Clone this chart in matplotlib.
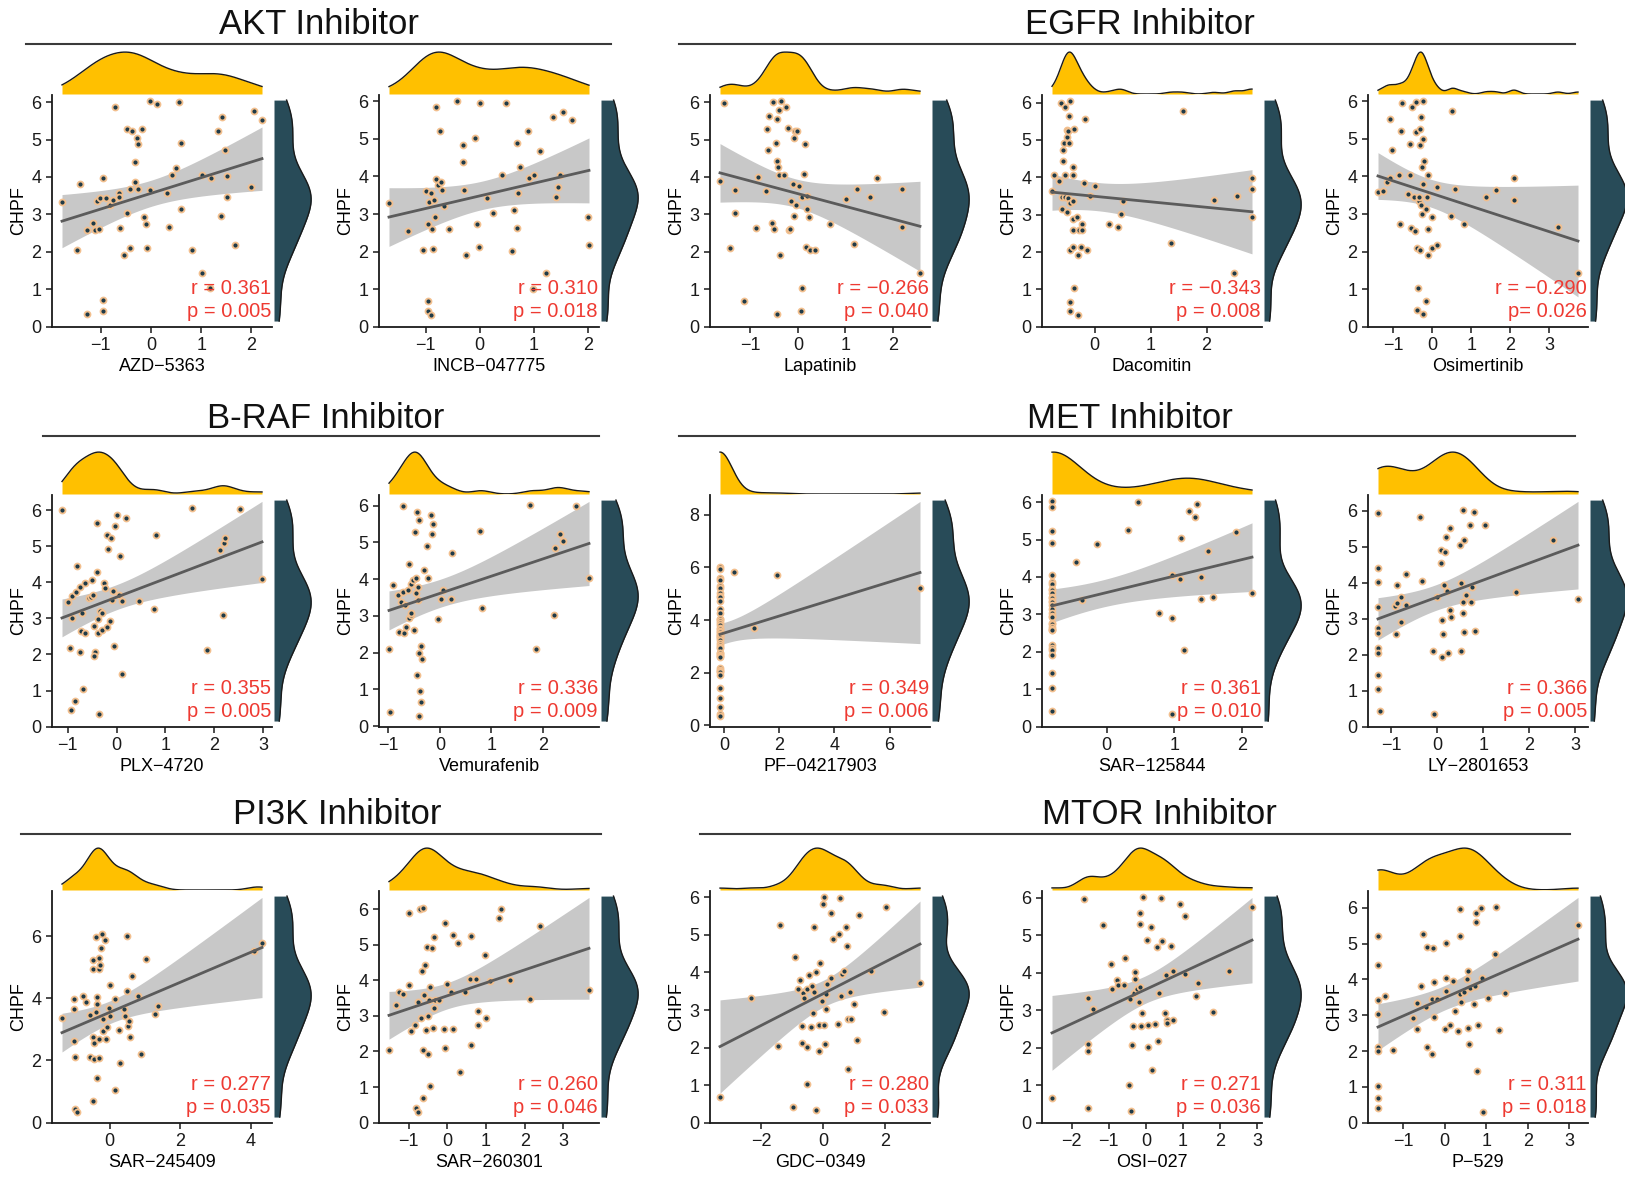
import numpy as np
import matplotlib.pyplot as plt
from matplotlib.lines import Line2D

plt.rcParams['font.family'] = ['Liberation Sans', 'DejaVu Sans']

# ---- values ----
# AKT inhibitors
azd_x = [-1.77, -1.42, -1.47, -1.27, -1.28, -1.15, -1.12, -1.04, -1.08, -1.02, -0.96, -0.90, -0.95, -0.96, -0.82,
         -0.75, -0.71, -0.64, -0.64, -0.62, -0.54, -0.48, -0.48, -0.41, -0.42, -0.38, -0.31, -0.31, -0.27, -0.25,
         -0.25, -0.18, -0.13, -0.09, -0.07, -0.02, -0.02, 0.13, 0.31, 0.36, 0.41, 0.50, 0.56, 0.59, 0.60,
         0.82, 1.02, 1.02, 1.17, 1.19, 1.33, 1.39, 1.42, 1.48, 1.52, 1.52, 1.68, 2.00, 2.05, 2.21]
azd_y = [3.32, 3.82, 2.05, 0.34, 2.57, 2.76, 2.58, 2.62, 3.36, 3.45, 3.96, 3.45, 0.71, 0.42, 3.26,
         3.38, 5.86, 3.58, 3.47, 2.64, 1.92, 3.05, 5.28, 2.11, 3.67, 5.22, 4.41, 3.87, 5.04, 4.87,
         3.69, 5.28, 2.94, 2.74, 2.11, 3.65, 6.02, 5.96, 3.56, 2.66, 4.05, 4.25, 6.00, 4.91, 3.14,
         2.04, 1.43, 4.05, 1.04, 3.98, 5.22, 2.96, 5.61, 4.71, 4.03, 3.47, 2.19, 3.74, 5.75, 5.53]

incb_x = [-1.68, -1.32, -1.05, -0.99, -0.96, -0.95, -0.96, -0.91, -0.94, -0.91, -0.89, -0.86, -0.84, -0.82, -0.81,
          -0.81, -0.77, -0.74, -0.72, -0.70, -0.66, -0.57, -0.43, -0.32, -0.32, -0.29, -0.25, -0.09, -0.05, -0.02,
          0.00, 0.13, 0.25, 0.41, 0.48, 0.59, 0.63, 0.68, 0.69, 0.71, 0.75, 0.89, 0.91, 1.00, 0.98,
          1.11, 1.23, 1.36, 1.41, 1.44, 1.48, 1.54, 1.71, 2.00, 2.02]
incb_y = [3.30, 2.55, 2.04, 3.61, 2.73, 0.68, 0.42, 0.31, 3.32, 3.56, 2.61, 2.08, 3.38, 2.92, 5.84,
          3.94, 3.76, 5.20, 3.85, 3.65, 3.21, 2.60, 6.00, 4.85, 4.39, 3.65, 1.90, 5.02, 2.73, 2.11,
          5.97, 3.42, 3.03, 4.03, 5.95, 2.02, 3.12, 2.64, 4.88, 3.56, 4.25, 5.20, 3.96, 4.03, 0.99,
          4.69, 1.42, 5.59, 3.45, 3.72, 4.05, 5.72, 5.51, 2.93, 2.18]

# EGFR inhibitors
lap_x = [-1.56, -1.64, -1.33, -1.32, -1.44, -1.14, -0.89, -0.83, -0.67, -0.65, -0.64, -0.60, -0.55, -0.52, -0.50,
         -0.47, -0.45, -0.45, -0.44, -0.42, -0.40, -0.39, -0.38, -0.35, -0.30, -0.26, -0.20, -0.19, -0.17, -0.14,
         -0.11, -0.08, -0.08, -0.07, -0.05, -0.01, 0.02, 0.07, 0.09, 0.09, 0.12, 0.15, 0.17, 0.19, 0.20,
         0.23, 0.25, 0.37, 0.67, 1.01, 1.19, 1.24, 1.51, 1.66, 2.19, 2.19, 2.57]
lap_y = [5.98, 3.88, 3.64, 3.05, 2.10, 0.69, 2.64, 4.00, 3.62, 5.29, 4.71, 5.62, 2.76, 6.00, 2.60,
         4.90, 5.56, 4.43, 0.33, 4.27, 5.78, 4.04, 1.91, 6.02, 4.04, 5.87, 5.31, 2.58, 2.60, 3.35,
         3.82, 5.05, 2.96, 5.22, 3.26, 5.24, 3.75, 0.43, 1.02, 3.47, 4.07, 4.89, 2.12, 3.14, 3.48,
         2.93, 2.06, 2.04, 2.74, 3.40, 2.20, 3.67, 3.47, 3.96, 3.67, 2.67, 1.44]

dac_x = [-0.76, -0.73, -0.64, -0.60, -0.59, -0.58, -0.57, -0.56, -0.55, -0.53, -0.52, -0.52, -0.50, -0.50, -0.49,
         -0.48, -0.48, -0.46, -0.45, -0.44, -0.44, -0.44, -0.44, -0.43, -0.39, -0.39, -0.38, -0.37, -0.39, -0.39,
         -0.36, -0.38, -0.31, -0.30, -0.29, -0.28, -0.24, -0.23, -0.22, -0.17, -0.19, -0.13, -0.09, 0.00, 0.26,
         0.41, 0.48, 0.51, 1.36, 1.57, 2.13, 2.55, 2.48, 2.81, 2.81, 2.81]
dac_y = [3.62, 4.06, 3.89, 6.00, 3.15, 3.46, 4.73, 4.43, 4.91, 3.46, 5.88, 4.07, 3.06, 5.07, 5.26,
         3.45, 5.24, 4.91, 5.64, 0.67, 0.43, 3.30, 2.06, 6.03, 2.12, 4.07, 4.28, 5.30, 3.36, 2.87,
         1.03, 2.59, 2.94, 1.92, 0.32, 2.59, 2.14, 2.76, 2.59, 5.57, 3.85, 2.05, 3.49, 3.76, 2.76,
         2.66, 3.01, 3.37, 2.23, 5.77, 3.40, 3.49, 1.43, 3.98, 3.69, 2.93]

osi_x = [-1.39, -1.25, -1.16, -1.08, -1.08, -1.02, -0.84, -0.82, -0.81, -0.78, -0.61, -0.57, -0.57, -0.55, -0.51,
         -0.48, -0.45, -0.43, -0.41, -0.40, -0.39, -0.37, -0.34, -0.34, -0.32, -0.32, -0.31, -0.30, -0.29, -0.26,
         -0.26, -0.25, -0.25, -0.25, -0.24, -0.21, -0.17, -0.16, -0.14, -0.11, -0.11, -0.10, -0.02, -0.02, 0.11,
         0.13, 0.48, 0.50, 0.58, 0.80, 1.38, 1.62, 2.09, 2.09, 3.22, 3.73]
osi_y = [3.59, 3.62, 3.84, 3.97, 5.52, 4.70, 4.04, 2.74, 5.22, 5.96, 3.54, 4.87, 4.04, 2.63, 5.84,
         3.44, 2.56, 5.18, 5.98, 0.44, 2.10, 1.02, 3.35, 3.46, 5.27, 4.85, 2.05, 5.58, 3.24, 3.00,
         4.24, 3.80, 5.01, 6.00, 0.34, 4.40, 3.13, 0.69, 3.44, 4.03, 2.60, 1.90, 2.91, 2.10, 2.18,
         3.72, 2.96, 5.74, 3.66, 2.74, 3.44, 3.64, 3.95, 3.37, 2.65, 1.43]

# B-RAF inhibitors
plx_x = [-1.12, -1.00, -0.96, -0.94, -0.92, -0.91, -0.86, -0.83, -0.81, -0.76, -0.75, -0.73, -0.70, -0.69, -0.65,
         -0.64, -0.57, -0.53, -0.51, -0.49, -0.46, -0.45, -0.46, -0.41, -0.41, -0.39, -0.39, -0.37, -0.35, -0.31,
         -0.29, -0.25, -0.23, -0.20, -0.20, -0.17, -0.13, -0.11, -0.09, -0.07, -0.06, -0.03, 0.00, 0.04, 0.06,
         0.10, 0.12, 0.20, 0.46, 0.77, 0.81, 1.54, 1.85, 2.11, 2.19, 2.21, 2.23, 2.53, 2.98]
plx_y = [6.00, 3.46, 2.18, 0.47, 3.00, 3.62, 0.72, 3.72, 4.45, 3.87, 2.07, 2.65, 3.16, 1.05, 2.60,
         3.98, 3.57, 3.59, 4.05, 3.64, 2.78, 2.07, 1.95, 5.64, 4.28, 2.98, 2.59, 0.36, 3.21, 2.68,
         3.16, 3.98, 3.84, 5.30, 2.77, 4.91, 2.94, 5.24, 3.51, 3.77, 2.23, 5.55, 5.87, 3.66, 4.73,
         1.46, 3.48, 5.77, 3.48, 3.25, 5.32, 6.05, 2.13, 4.89, 3.09, 5.08, 5.24, 6.02, 4.08]

vem_x = [-0.99, -0.97, -0.91, -0.82, -0.80, -0.76, -0.72, -0.71, -0.69, -0.67, -0.66, -0.63, -0.61, -0.60, -0.57,
         -0.56, -0.56, -0.52, -0.51, -0.49, -0.47, -0.46, -0.45, -0.45, -0.43, -0.43, -0.41, -0.41, -0.40, -0.38,
         -0.37, -0.36, -0.34, -0.31, -0.26, -0.24, -0.18, -0.16, -0.13, -0.04, 0.02, 0.07, 0.21, 0.24, 0.82,
         0.78, 1.75, 1.87, 2.22, 2.24, 2.33, 2.40, 2.65, 2.90]
vem_y = [2.09, 0.38, 3.83, 3.58, 2.57, 3.38, 5.98, 3.65, 2.53, 3.29, 2.71, 3.70, 4.42, 2.94, 3.02,
         3.88, 3.07, 3.97, 2.62, 5.27, 4.02, 3.61, 5.84, 1.40, 3.79, 3.43, 5.61, 2.00, 0.27, 0.97,
         0.65, 2.18, 1.82, 4.24, 4.89, 4.02, 5.75, 5.24, 5.51, 2.91, 3.45, 3.70, 3.45, 4.70, 3.22,
         5.30, 6.01, 2.09, 3.02, 4.86, 5.22, 5.04, 6.00, 4.03]

# MET inhibitors (many samples sit on the same lowest value)
pf_x = [-0.15] * 46 + [0.37, 1.09, 1.91, 7.10]
pf_y = [6.02, 5.96, 5.60, 5.53, 5.28, 5.22, 5.04, 4.91, 4.87, 4.71,
        4.41, 4.25, 4.05, 4.03, 3.98, 3.87, 3.82, 3.69, 3.65, 3.58,
        3.56, 3.47, 3.45, 3.38, 3.36, 3.32, 3.26, 3.14, 3.05, 2.96,
        2.94, 2.76, 2.74, 2.66, 2.62, 2.58, 2.19, 2.11, 2.05, 2.04,
        1.92, 1.43, 1.04, 0.71, 0.42, 0.34, 5.82, 3.71, 5.73, 5.22]

sar125_x = [-0.81] * 32 + [-0.46, -0.36, -0.15, 0.32, 0.46, 0.77, 0.97, 0.97, 0.97,
                           1.09, 1.10, 1.14, 1.22, 1.30, 1.33, 1.39, 1.39, 1.50, 1.57, 1.91, 2.15]
sar125_y = [6.02, 5.86, 5.22, 4.91, 4.05, 3.87, 3.82, 3.69, 3.65, 3.58,
            3.47, 3.45, 3.36, 3.32, 3.26, 3.14, 3.05, 2.96, 2.94, 2.76,
            2.74, 2.66, 2.62, 2.58, 2.57, 2.19, 2.11, 2.05, 1.92, 1.43,
            1.04, 0.42, 4.41, 3.38, 4.87, 5.26, 6.00, 3.03, 2.91, 0.33, 4.05,
            3.95, 5.03, 2.06, 5.75, 5.60, 5.96, 4.00, 3.42, 4.69, 3.46, 5.21, 3.56]

ly_x = [-1.29, -1.29, -1.29, -1.29, -1.29, -1.29, -1.29, -1.29, -1.29, -1.29, -1.24, -0.92, -0.90, -0.87, -0.88,
        -0.78, -0.78, -0.69, -0.69, -0.38, -0.33, -0.10, -0.07, 0.00, 0.07, 0.09, 0.10, 0.10, 0.12, 0.14,
        0.16, 0.19, 0.21, 0.23, 0.27, 0.27, 0.29, 0.49, 0.51, 0.52, 0.55, 0.55, 0.56, 0.58, 0.59,
        0.62, 0.72, 0.73, 0.76, 0.79, 0.81, 1.03, 1.71, 2.52, 3.06]
ly_y = [5.95, 4.40, 4.02, 3.32, 2.75, 2.60, 2.20, 2.04, 1.44, 1.04, 0.44, 3.37, 2.57, 3.94, 3.44,
        3.62, 2.91, 3.38, 4.25, 5.83, 4.06, 2.11, 0.34, 3.62, 4.91, 4.56, 1.93, 2.96, 2.59, 3.94,
        4.86, 5.28, 3.76, 2.04, 5.53, 3.24, 3.06, 5.05, 2.11, 3.99, 6.03, 3.47, 3.15, 2.64, 5.20,
        3.67, 5.61, 3.47, 3.88, 5.98, 2.66, 5.60, 3.74, 5.20, 3.56]

# PI3K inhibitors
s245_x = [-1.35, -1.02, -1.02, -1.00, -0.99, -0.99, -0.93, -0.75, -0.66, -0.55, -0.55, -0.48, -0.47, -0.47, -0.47,
          -0.44, -0.44, -0.40, -0.40, -0.37, -0.36, -0.36, -0.31, -0.31, -0.31, -0.29, -0.27, -0.25, -0.23, -0.20,
          -0.20, -0.14, -0.11, -0.07, -0.03, 0.00, 0.02, 0.15, 0.16, 0.26, 0.30, 0.41, 0.43, 0.49, 0.49,
          0.52, 0.55, 0.57, 0.63, 0.81, 0.88, 1.03, 1.29, 1.36, 4.09, 4.31]
s245_y = [3.36, 3.96, 3.64, 2.61, 2.11, 0.43, 0.35, 4.06, 3.87, 3.46, 2.11, 5.22, 4.94, 2.75, 0.70,
          2.56, 2.06, 3.57, 5.97, 3.82, 4.03, 1.44, 4.94, 2.68, 2.08, 5.28, 5.07, 5.63, 6.05, 3.34,
          2.96, 5.87, 2.68, 3.09, 3.68, 4.42, 3.44, 3.96, 1.04, 2.99, 1.93, 3.64, 3.44, 6.00, 4.24,
          3.12, 3.26, 2.75, 4.72, 4.06, 2.22, 5.26, 3.48, 3.76, 5.52, 5.79]

s260_x = [-1.51, -1.34, -1.24, -1.16, -1.00, -1.00, -0.94, -0.85, -0.80, -0.77, -0.75, -0.72, -0.68, -0.65, -0.62,
          -0.62, -0.62, -0.60, -0.57, -0.55, -0.52, -0.50, -0.50, -0.48, -0.45, -0.44, -0.40, -0.38, -0.35, -0.35,
          -0.32, -0.22, -0.10, -0.05, -0.05, -0.02, 0.10, 0.15, 0.15, 0.27, 0.32, 0.45, 0.58, 0.60, 0.60,
          0.75, 0.80, 0.80, 0.97, 1.01, 1.11, 1.34, 1.39, 1.61, 2.14, 2.39, 3.66]
s260_y = [2.05, 3.32, 3.66, 3.62, 3.88, 5.88, 2.57, 2.74, 0.42, 0.30, 3.40, 6.00, 2.93, 4.26, 0.68,
          6.03, 2.05, 3.59, 4.42, 2.60, 4.93, 1.93, 3.00, 3.44, 3.81, 1.02, 4.90, 2.67, 5.21, 3.22,
          3.44, 3.44, 2.62, 2.11, 5.61, 3.90, 3.67, 5.27, 2.62, 5.04, 1.42, 3.67, 4.05, 2.19, 5.24,
          4.05, 3.14, 2.73, 4.72, 2.95, 3.99, 5.75, 6.00, 4.02, 3.47, 5.54, 3.74]

# MTOR inhibitors
gdc_x = [-3.33, -2.34, -1.47, -1.40, -0.97, -0.90, -0.83, -0.75, -0.67, -0.67, -0.65, -0.63, -0.54, -0.54, -0.51,
         -0.46, -0.41, -0.37, -0.33, -0.31, -0.29, -0.24, -0.22, -0.13, -0.13, -0.11, -0.03, -0.01, 0.02, 0.04,
         0.05, 0.09, 0.10, 0.12, 0.26, 0.26, 0.30, 0.48, 0.50, 0.53, 0.58, 0.61, 0.66, 0.72, 0.76,
         0.79, 0.81, 0.87, 0.89, 0.99, 1.08, 1.15, 1.54, 1.95, 2.02, 3.12]
gdc_y = [0.68, 3.31, 2.04, 5.26, 0.42, 4.41, 3.57, 3.79, 2.57, 2.11, 3.44, 3.32, 2.02, 1.02, 3.56,
         3.94, 2.54, 3.63, 2.93, 5.20, 3.48, 0.33, 4.02, 2.61, 1.91, 4.24, 3.24, 5.83, 2.61, 6.00,
         2.10, 3.03, 3.43, 3.68, 3.86, 5.59, 4.90, 2.64, 5.03, 5.98, 3.38, 3.96, 4.03, 5.21, 4.70,
         2.75, 1.44, 3.48, 2.75, 3.15, 2.20, 5.52, 4.03, 2.94, 5.74, 3.72]

osi027_x = [-2.53, -1.67, -1.56, -1.55, -1.56, -1.56, -1.43, -1.15, -0.95, -0.90, -0.77, -0.75, -0.60, -0.55, -0.45,
            -0.42, -0.40, -0.38, -0.34, -0.32, -0.28, -0.28, -0.23, -0.19, -0.16, -0.16, -0.15, -0.12, -0.10, -0.08,
            0.03, 0.05, 0.07, 0.14, 0.17, 0.24, 0.31, 0.33, 0.35, 0.40, 0.43, 0.52, 0.54, 0.56, 0.58,
            0.69, 0.73, 0.74, 0.93, 1.06, 1.06, 1.36, 1.40, 1.80, 2.23, 2.86]
osi027_y = [0.67, 5.96, 3.33, 2.10, 1.90, 0.40, 3.04, 5.27, 4.24, 3.57, 3.80, 3.66, 3.66, 4.40, 1.00,
            3.29, 0.31, 2.07, 2.58, 3.46, 4.02, 3.84, 3.57, 3.21, 5.59, 5.29, 3.62, 2.58, 2.92, 6.01,
            4.88, 2.60, 2.01, 5.22, 1.40, 2.63, 4.69, 2.17, 3.47, 6.00, 4.85, 2.93, 3.95, 2.74, 2.66,
            4.71, 4.05, 2.74, 5.83, 5.52, 3.96, 3.38, 3.73, 2.95, 4.04, 5.76]

p529_x = [-1.61, -1.61, -1.61, -1.61, -1.61, -1.61, -1.61, -1.61, -1.61, -1.43, -1.24, -0.77, -0.67, -0.66, -0.58,
          -0.52, -0.46, -0.44, -0.42, -0.30, -0.30, -0.29, -0.26, -0.25, -0.19, 0.01, 0.02, 0.04, 0.04, 0.12,
          0.20, 0.25, 0.31, 0.36, 0.37, 0.37, 0.39, 0.47, 0.53, 0.55, 0.56, 0.58, 0.60, 0.70, 0.72,
          0.76, 0.76, 0.78, 0.80, 0.87, 0.90, 0.91, 1.03, 1.22, 1.24, 1.31, 1.45, 3.21]
p529_y = [5.21, 4.40, 3.42, 3.03, 2.12, 2.01, 1.01, 0.68, 0.40, 3.54, 2.03, 2.91, 3.34, 2.63, 3.81,
          5.27, 3.24, 2.12, 4.90, 3.45, 1.91, 4.87, 3.94, 2.96, 3.45, 2.63, 5.02, 4.03, 3.67, 2.74,
          3.96, 3.12, 2.55, 5.97, 5.22, 3.60, 3.38, 3.66, 4.01, 4.24, 2.64, 2.19, 3.75, 3.31, 3.83,
          5.60, 5.86, 1.43, 2.73, 6.00, 4.04, 0.31, 3.47, 4.70, 6.02, 2.59, 3.63, 5.52]

# panel: (row, col, x, y, drug, r label, p label, xticks, yticks)
panels = [
    (0, 0, azd_x, azd_y, 'AZD\u22125363', 'r = 0.361', 'p = 0.005', [-1, 0, 1, 2], [0, 1, 2, 3, 4, 5, 6]),
    (0, 1, incb_x, incb_y, 'INCB\u2212047775', 'r = 0.310', 'p = 0.018', [-1, 0, 1, 2], [0, 1, 2, 3, 4, 5, 6]),
    (0, 2, lap_x, lap_y, 'Lapatinib', 'r = \u22120.266', 'p = 0.040', [-1, 0, 1, 2], [0, 1, 2, 3, 4, 5, 6]),
    (0, 3, dac_x, dac_y, 'Dacomitin', 'r = \u22120.343', 'p = 0.008', [0, 1, 2], [0, 1, 2, 3, 4, 5, 6]),
    (0, 4, osi_x, osi_y, 'Osimertinib', 'r = \u22120.290', 'p= 0.026', [-1, 0, 1, 2, 3], [0, 1, 2, 3, 4, 5, 6]),
    (1, 0, plx_x, plx_y, 'PLX\u22124720', 'r = 0.355', 'p = 0.005', [-1, 0, 1, 2, 3], [0, 1, 2, 3, 4, 5, 6]),
    (1, 1, vem_x, vem_y, 'Vemurafenib', 'r = 0.336', 'p = 0.009', [-1, 0, 1, 2], [0, 1, 2, 3, 4, 5, 6]),
    (1, 2, pf_x, pf_y, 'PF\u221204217903', 'r = 0.349', 'p = 0.006', [0, 2, 4, 6], [0, 2, 4, 6, 8]),
    (1, 3, sar125_x, sar125_y, 'SAR\u2212125844', 'r = 0.361', 'p = 0.010', [0, 1, 2], [0, 1, 2, 3, 4, 5, 6]),
    (1, 4, ly_x, ly_y, 'LY\u22122801653', 'r = 0.366', 'p = 0.005', [-1, 0, 1, 2, 3], [0, 1, 2, 3, 4, 5, 6]),
    (2, 0, s245_x, s245_y, 'SAR\u2212245409', 'r = 0.277', 'p = 0.035', [0, 2, 4], [0, 2, 4, 6]),
    (2, 1, s260_x, s260_y, 'SAR\u2212260301', 'r = 0.260', 'p = 0.046', [-1, 0, 1, 2, 3], [0, 1, 2, 3, 4, 5, 6]),
    (2, 2, gdc_x, gdc_y, 'GDC\u22120349', 'r = 0.280', 'p = 0.033', [-2, 0, 2], [0, 1, 2, 3, 4, 5, 6]),
    (2, 3, osi027_x, osi027_y, 'OSI\u2212027', 'r = 0.271', 'p = 0.036', [-2, -1, 0, 1, 2, 3], [0, 1, 2, 3, 4, 5, 6]),
    (2, 4, p529_x, p529_y, 'P\u2212529', 'r = 0.311', 'p = 0.018', [-1, 0, 1, 2, 3], [0, 1, 2, 3, 4, 5, 6]),
]

# group headers: (text, title x, title y, line x0, line x1, line y) in pixels
groups = [
    ('AKT Inhibitor', 319, 24, 26, 611, 43.5),
    ('EGFR Inhibitor', 1140, 24, 679, 1575, 43.5),
    ('B-RAF Inhibitor', 326, 418, 43, 599, 436),
    ('MET Inhibitor', 1130, 418, 679, 1575, 436),
    ('PI3K Inhibitor', 337, 814, 21, 601, 834),
    ('MTOR Inhibitor', 1159, 814, 700, 1570, 834),
]

W, H = 1625, 1177
col_left = [52, 379, 710, 1042, 1368]
row_bottom = [327, 727, 1123]
PW, PH = 220, 232
TOPH, RIGHTW = 44, 39

YELLOW = '#FFC000'
TEAL = '#284B58'
DOT = '#1f3b48'
RING = '#f2bf8e'
RED = '#ee3a32'


def kde(v, grid):
    # gaussian density with R's bw.nrd0 bandwidth
    v = np.asarray(v, float)
    n = len(v)
    sd = v.std(ddof=1)
    q75, q25 = np.percentile(v, [75, 25])
    lo = min(sd, (q75 - q25) / 1.34)
    if lo <= 0:
        lo = sd
    bw = 0.9 * lo * n ** -0.2
    z = (grid[:, None] - v[None, :]) / bw
    return np.exp(-0.5 * z ** 2).sum(axis=1) / (n * bw * np.sqrt(2 * np.pi))


def lm_band(x, y, grid, t=2.004):
    n = len(x)
    xm, ym = x.mean(), y.mean()
    sxx = ((x - xm) ** 2).sum()
    b = ((x - xm) * (y - ym)).sum() / sxx
    a = ym - b * xm
    s = np.sqrt(((y - a - b * x) ** 2).sum() / (n - 2))
    fit = a + b * grid
    se = s * np.sqrt(1.0 / n + (grid - xm) ** 2 / sxx)
    return fit, fit - t * se, fit + t * se


fig = plt.figure(figsize=(W / 100, H / 100), dpi=100)

for row, col, xs, ys, drug, rtxt, ptxt, xt, yt in panels:
    x = np.array(xs)
    y = np.array(ys)
    lx, by = col_left[col], row_bottom[row]
    ax = fig.add_axes([lx / W, 1 - by / H, PW / W, PH / H])

    grid = np.linspace(x.min(), x.max(), 200)
    fit, lo, hi = lm_band(x, y, grid)
    ax.fill_between(grid, lo, hi, color='#c8c8c8', lw=0, zorder=1)
    ax.plot(x, y, 'o', ms=4.3, mfc=DOT, mec=RING, mew=1.3, zorder=2)
    ax.plot(grid, fit, color='#5b5b5b', lw=2.0, zorder=3)

    rx = x.max() - x.min()
    ax.set_xlim(x.min() - 0.05 * rx, x.max() + 0.05 * rx)
    ylo = min(y.min(), lo.min())
    yhi = max(y.max(), hi.max())
    ry = yhi - ylo
    ax.set_ylim(min(ylo - 0.05 * ry, -0.01), yhi + 0.03 * ry)
    ax.set_xticks(xt)
    ax.set_yticks(yt)

    for s in ('top', 'right'):
        ax.spines[s].set_visible(False)
    for s in ('left', 'bottom'):
        ax.spines[s].set_linewidth(1.3)
        ax.spines[s].set_color('#1a1a1a')
    ax.tick_params(direction='out', length=4, width=1.1, labelsize=13, pad=3.5, colors='#1a1a1a')
    ax.set_xlabel(drug, fontsize=13, labelpad=2.5)
    ax.set_ylabel('CHPF', fontsize=13, labelpad=3)

    ax.text(0.995, 0.165, rtxt, transform=ax.transAxes, ha='right', va='center', color=RED, fontsize=14.5, zorder=4)
    ax.text(0.995, 0.065, ptxt, transform=ax.transAxes, ha='right', va='center', color=RED, fontsize=14.5, zorder=4)

    # top marginal density (x)
    axt = fig.add_axes([lx / W, 1 - (by - PH - 1) / H, PW / W, TOPH / H])
    gx = np.linspace(x.min(), x.max(), 300)
    dx = kde(x, gx)
    axt.fill_between(gx, 0, dx, color=YELLOW, lw=0)
    axt.plot(gx, dx, color='#1a1a1a', lw=1.0)
    axt.set_xlim(ax.get_xlim())
    axt.set_ylim(0, dx.max() * 1.05)
    axt.axis('off')

    # right marginal density (y), on its own scale
    axr = fig.add_axes([(lx + PW + 2) / W, 1 - by / H, RIGHTW / W, PH / H])
    gy = np.linspace(y.min(), y.max(), 300)
    dy = kde(y, gy)
    axr.fill_betweenx(gy, 0, dy, color=TEAL, lw=0)
    axr.plot(dy, gy, color='#1a1a1a', lw=1.0)
    ryy = y.max() - y.min()
    axr.set_ylim(y.min() - 0.027 * ryy, y.max() + 0.023 * ryy)
    axr.set_xlim(0, dy.max() * 1.05)
    axr.axis('off')

for text, tx, ty, x0, x1, ly in groups:
    fig.text(tx / W, 1 - ty / H, text, ha='center', va='center', fontsize=25, color='#111111')
    fig.add_artist(Line2D([x0 / W, x1 / W], [1 - ly / H, 1 - ly / H], transform=fig.transFigure,
                          color='#3a3a3a', lw=1.5))

fig.savefig('out.png', dpi=100)
